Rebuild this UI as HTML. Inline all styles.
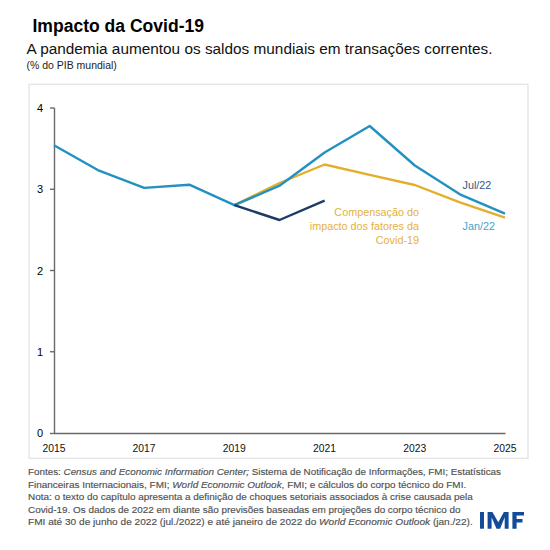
<!DOCTYPE html>
<html><head><meta charset="utf-8">
<style>
html,body{margin:0;padding:0;background:#fff;width:550px;height:550px;overflow:hidden}
svg{display:block}
text{font-family:"Liberation Sans",sans-serif}
</style></head><body>
<svg width="550" height="550" viewBox="0 0 550 550">
<rect x="0" y="0" width="550" height="550" fill="#fff"/>
<!-- titles -->
<text x="32.5" y="31.8" font-size="17.5" font-weight="bold" fill="#000" textLength="171.5" lengthAdjust="spacingAndGlyphs">Impacto da Covid-19</text>
<text x="26.5" y="54.3" font-size="15.2" fill="#111" textLength="466" lengthAdjust="spacingAndGlyphs">A pandemia aumentou os saldos mundiais em transações correntes.</text>
<text x="26.5" y="69.3" font-size="11.2" fill="#222" textLength="90.3" lengthAdjust="spacingAndGlyphs">(% do PIB mundial)</text>
<!-- box -->
<rect x="29" y="84.3" width="499" height="374" fill="none" stroke="#e6e6e6" stroke-width="1.4"/>
<!-- axes -->
<g stroke="#6a6a6a" stroke-width="1.4" fill="none">
<line x1="54.5" y1="108" x2="54.5" y2="433.5"/>
<line x1="54" y1="433.5" x2="505.5" y2="433.5"/>
<line x1="50" y1="108" x2="54.5" y2="108"/>
<line x1="50" y1="189.25" x2="54.5" y2="189.25"/>
<line x1="50" y1="270.5" x2="54.5" y2="270.5"/>
<line x1="50" y1="351.75" x2="54.5" y2="351.75"/>
<line x1="50" y1="433.5" x2="54.5" y2="433.5"/>
</g>
<g font-size="11" fill="#000" text-anchor="end" transform="translate(-0.5,0)">
<text x="43.5" y="111.9">4</text>
<text x="43.5" y="193.1">3</text>
<text x="43.5" y="275.1">2</text>
<text x="43.5" y="355.6">1</text>
<text x="43.5" y="437">0</text>
</g>
<g font-size="11.4" fill="#111">
<text x="42.4" y="452.1" textLength="23" lengthAdjust="spacingAndGlyphs">2015</text>
<text x="132.6" y="452.1" textLength="23" lengthAdjust="spacingAndGlyphs">2017</text>
<text x="222.8" y="452.1" textLength="23" lengthAdjust="spacingAndGlyphs">2019</text>
<text x="313.0" y="452.1" textLength="23" lengthAdjust="spacingAndGlyphs">2021</text>
<text x="403.2" y="452.1" textLength="23" lengthAdjust="spacingAndGlyphs">2023</text>
<text x="493.4" y="452.1" textLength="23" lengthAdjust="spacingAndGlyphs">2025</text>
</g>
<!-- series -->
<g fill="none" stroke-width="2.4" stroke-linejoin="round" stroke-linecap="butt">
<polyline stroke="#e3ae2a" points="234.4,205.2 279.5,183 324.6,164.5 369.7,174.8 414.8,185 459.9,202.4 505,217.6"/>
<polyline stroke="#2291c2" points="54,145.3 99.1,170.7 144.2,187.9 189.3,184.7 234.4,205.2 279.5,185.7 324.6,152.5 369.7,126 414.8,165.5 459.9,194.3 505,213.7"/>
<polyline stroke="#1b3c66" points="234.4,205.2 279.5,220 324.6,200.6"/>
</g>
<!-- labels -->
<g font-size="10.8" fill="#e3b13e" text-anchor="end">
<text x="419" y="215.8">Compensação do</text>
<text x="419" y="229.8">impacto dos fatores da</text>
<text x="419" y="243.6">Covid-19</text>
</g>
<text x="462.5" y="189.3" font-size="10.8" fill="#3a5684">Jul/22</text>
<text x="462.5" y="230.3" font-size="10.8" fill="#48a2cc">Jan/22</text>
<!-- notes -->
<g font-size="9.6" fill="#505050" stroke="#505050" stroke-width="0.15">
<text x="28" y="475.3" textLength="473" lengthAdjust="spacingAndGlyphs">Fontes: <tspan font-style="italic">Census and Economic Information Center;</tspan> Sistema de Notificação de Informações, FMI; Estatísticas</text>
<text x="28" y="487.7" textLength="438.2" lengthAdjust="spacingAndGlyphs">Financeiras Internacionais, FMI; <tspan font-style="italic">World Economic Outlook</tspan>, FMI; e cálculos do corpo técnico do FMI.</text>
<text x="28" y="500.3" textLength="444.7" lengthAdjust="spacingAndGlyphs">Nota: o texto do capítulo apresenta a definição de choques setoriais associados à crise causada pela</text>
<text x="28" y="512.8" textLength="432.4" lengthAdjust="spacingAndGlyphs">Covid-19. Os dados de 2022 em diante são previsões baseadas em projeções do corpo técnico do</text>
<text x="28" y="525.4" textLength="444.7" lengthAdjust="spacingAndGlyphs">FMI até 30 de junho de 2022 (jul./2022) e até janeiro de 2022 do <tspan font-style="italic">World Economic Outlook</tspan> (jan./22).</text>
</g>
<!-- IMF logo -->
<g fill="#144b98">
<rect x="480" y="512" width="4" height="16.7"/>
<path d="M487.6,512 H492.4 L498.3,522.3 L503.9,512 H508.6 V528.7 H504.7 V517.3 L500.1,528.7 H496.5 L491.6,517.3 V528.7 H487.6 Z"/>
<path d="M512.4,512 H524 V515.4 H516.6 V518.9 H522.5 V522.4 H516.6 V528.7 H512.4 Z"/>
</g>
</svg>
</body></html>
